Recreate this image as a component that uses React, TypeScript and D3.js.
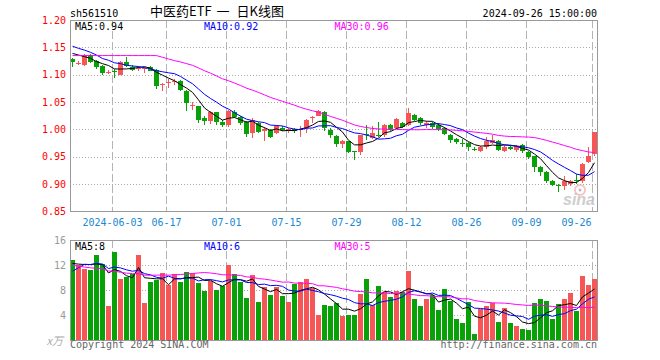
import React from "react";
import * as d3 from "d3";

const dates = [
  "2024-05-23","2024-05-24","2024-05-27","2024-05-28","2024-05-29","2024-05-30","2024-05-31",
  "2024-06-03","2024-06-04","2024-06-05","2024-06-06","2024-06-07",
  "2024-06-11","2024-06-12","2024-06-13","2024-06-14",
  "2024-06-17","2024-06-18","2024-06-19","2024-06-20","2024-06-21",
  "2024-06-24","2024-06-25","2024-06-26","2024-06-27","2024-06-28",
  "2024-07-01","2024-07-02","2024-07-03","2024-07-04","2024-07-05",
  "2024-07-08","2024-07-09","2024-07-10","2024-07-11","2024-07-12",
  "2024-07-15","2024-07-16","2024-07-17","2024-07-18","2024-07-19",
  "2024-07-22","2024-07-23","2024-07-24","2024-07-25","2024-07-26",
  "2024-07-29","2024-07-30","2024-07-31","2024-08-01","2024-08-02",
  "2024-08-05","2024-08-06","2024-08-07","2024-08-08","2024-08-09",
  "2024-08-12","2024-08-13","2024-08-14","2024-08-15","2024-08-16",
  "2024-08-19","2024-08-20","2024-08-21","2024-08-22","2024-08-23",
  "2024-08-26","2024-08-27","2024-08-28","2024-08-29","2024-08-30",
  "2024-09-02","2024-09-03","2024-09-04","2024-09-05","2024-09-06",
  "2024-09-09","2024-09-10","2024-09-11","2024-09-12","2024-09-13",
  "2024-09-18","2024-09-19","2024-09-20",
  "2024-09-23","2024-09-24","2024-09-25","2024-09-26",
];

const opens = [
  1.129,1.120,1.117,1.136,1.125,1.116,1.104,1.106,1.100,1.123,
  1.115,1.112,1.111,1.115,1.109,1.082,1.084,1.087,1.089,1.071,
  1.042,1.042,1.021,1.015,1.031,1.014,1.008,1.032,1.023,1.013,
  0.994,1.011,0.998,0.999,0.994,1.002,0.997,1.000,0.999,1.002,
  1.020,1.025,1.032,0.999,0.988,0.974,0.978,0.961,0.958,0.992,
  0.985,0.990,0.990,1.008,1.002,1.011,1.009,1.027,1.021,1.008,
  1.011,1.009,1.002,0.990,0.983,0.975,0.976,0.964,0.961,0.968,
  0.976,0.979,0.961,0.968,0.963,0.971,0.959,0.951,0.932,0.923,
  0.906,0.899,0.897,0.901,0.907,0.906,0.940,0.955,
];
const highs = [
  1.131,1.125,1.138,1.138,1.127,1.117,1.108,1.110,1.125,1.133,
  1.118,1.116,1.115,1.116,1.110,1.084,1.092,1.092,1.091,1.072,
  1.050,1.043,1.025,1.034,1.032,1.017,1.035,1.035,1.025,1.015,
  1.020,1.014,1.004,1.000,1.008,1.006,1.002,1.003,1.006,1.019,
  1.025,1.036,1.034,1.002,0.989,0.981,0.979,0.961,0.990,1.008,
  1.006,1.013,1.010,1.010,1.021,1.014,1.040,1.029,1.023,1.015,
  1.013,1.011,1.004,0.992,0.985,0.982,0.977,0.967,0.969,0.987,
  0.990,0.981,0.972,0.971,0.972,0.973,0.961,0.952,0.934,0.924,
  0.908,0.900,0.915,0.908,0.918,0.939,0.968,0.996,
];
const lows = [
  1.115,1.117,1.116,1.121,1.111,1.099,1.101,1.094,1.099,1.114,
  1.106,1.106,1.104,1.106,1.074,1.071,1.076,1.081,1.070,1.034,
  1.036,1.012,1.009,1.010,1.009,1.005,1.005,1.020,1.009,0.986,
  0.985,0.994,0.979,0.984,0.991,0.997,0.993,0.994,0.987,0.993,
  1.011,1.024,0.998,0.985,0.968,0.966,0.957,0.945,0.953,0.981,
  0.982,0.987,0.987,0.997,1.000,1.002,1.006,1.016,1.008,1.002,
  1.000,0.998,0.989,0.976,0.973,0.968,0.960,0.960,0.958,0.965,
  0.973,0.961,0.958,0.962,0.959,0.957,0.946,0.923,0.915,0.903,
  0.896,0.886,0.889,0.896,0.901,0.903,0.938,0.951,
];
const closes = [
  1.123,1.122,1.136,1.124,1.115,1.104,1.105,1.105,1.123,1.116,
  1.109,1.113,1.113,1.107,1.080,1.083,1.086,1.089,1.072,1.048,
  1.044,1.017,1.015,1.032,1.013,1.008,1.034,1.022,1.011,0.992,
  1.017,0.996,1.000,0.986,1.006,0.999,1.000,0.998,1.001,1.018,
  1.023,1.033,1.002,0.989,0.973,0.979,0.958,0.960,0.989,0.990,
  0.993,0.989,1.008,1.000,1.019,1.005,1.030,1.018,1.011,1.011,
  1.004,1.000,0.991,0.980,0.977,0.974,0.967,0.963,0.967,0.979,
  0.981,0.963,0.968,0.965,0.970,0.960,0.949,0.931,0.923,0.906,
  0.899,0.898,0.906,0.906,0.906,0.937,0.951,0.996,
];
// volume in 万 (10k) units
const volumes = [
  12.8,12.0,11.36,11.2,13.6,12.16,5.44,14.08,9.76,10.13,
  10.56,13.6,5.92,9.28,9.71,10.67,8.8,10.56,9.28,10.83,
  10.67,9.12,7.84,9.55,8.0,8.64,12.0,10.56,9.28,6.72,
  10.4,6.08,8.48,7.2,8.48,7.04,6.08,8.96,9.28,9.76,
  8.32,4.0,5.6,5.44,6.03,3.89,4.0,4.0,7.36,9.76,
  5.6,8.64,7.73,6.88,7.84,7.73,11.04,6.56,5.44,6.56,
  7.2,4.8,8.16,6.24,3.36,2.72,6.08,0.96,4.96,5.44,
  6.03,2.88,5.12,2.72,2.24,1.76,1.6,5.92,6.56,6.24,
  3.36,5.76,6.56,7.52,4.64,10.24,8.8,9.76,
];
// sessions before the first visible day, estimated from where the MA lines start
const priorCloses = [
  1.122,1.136,1.124,1.115,1.104,1.105,1.105,1.123,1.116,1.109,
  1.113,1.113,1.107,1.080,1.176,1.180,1.182,1.142,1.138,1.140,
  1.160,1.168,1.165,1.164,1.168,1.137,1.151,1.139,1.145,
];
const priorVolumes = [
  15.5,16.0,15.2,15.6,14.8,15.8,14.6,15.4,14.2,13.0,
  13.8,12.9,9.8,9.2,10.0,9.6,8.6,8.0,8.4,8.3,
  6.5,5.9,11.7,11.76,13.19,12.55,11.66,11.2,13.14,
];

const priceTicks = [1.2, 1.15, 1.1, 1.05, 1.0, 0.95, 0.9, 0.85];
const volumeTicks = [16, 12, 8, 4];
const dateTicks = ["2024-06-03","2024-06-17","2024-07-01","2024-07-15","2024-07-29","2024-08-12","2024-08-26","2024-09-09","2024-09-26"];
const dateTickLabels = ["2024-06-03","06-17","07-01","07-15","07-29","08-12","08-26","09-09","09-26"];

const maPeriods = [5, 10, 30];
const maColors = ["#000000", "#0000ff", "#ff00ff"];
const priceLegend = ["MA5:0.94", "MA10:0.92", "MA30:0.96"];
const volumeLegend = ["MA5:8", "MA10:6", "MA30:5"];
const titleParts = ["中医药ETF", "一", "日K线图"];

const UP = "#f75656";
const DOWN = "#08a208";
const MONO = "'DejaVu Sans Mono', 'Liberation Mono', monospace";
const CJK = "'Noto Sans CJK SC', sans-serif";

function movingAverage(values: number[], prior: number[], n: number): number[] {
  const all = prior.concat(values);
  return values.map((_, i) => {
    const end = prior.length + i;
    const start = Math.max(0, end - n + 1);
    return d3.mean(all.slice(start, end + 1)) as number;
  });
}

export default function App() {
  const L = 70, R = 598;
  const x = d3.scaleBand<string>().domain(dates).range([L, R]).padding(0);
  const bw = x.bandwidth() - 1;
  const y = d3.scaleLinear().domain([0.85, 1.2]).range([211.5, 20]);
  const vy = d3.scaleLinear().domain([0, 16]).range([340.5, 240]);
  const cx = (i: number) => (x(dates[i]) as number) + bw / 2;

  const priceMAs = maPeriods.map((n) => movingAverage(closes, priorCloses, n));
  const volMAs = maPeriods.map((n) => movingAverage(volumes, priorVolumes, n));
  const line = (scale: d3.ScaleLinear<number, number>) =>
    d3.line<number>().x((_, i) => cx(i)).y((v) => scale(v));

  const legendX = [75, 204, 334.5];
  const titleX = [150, 216.5, 236.5];
  const right = 597.5;

  return (
    <svg width={660} height={360} style={{ position: "absolute", left: 0, top: 0, background: "#fff" }}
      fontFamily={MONO} fontSize={10}>
      {/* header */}
      <text x={70} y={17} fill="#000">sh561510</text>
      {titleParts.map((t, k) => (
        <text key={"tt" + k} x={titleX[k]} y={16} fontSize={13} fontFamily={CJK} fill="#000">{t}</text>
      ))}
      <text x={597} y={17} textAnchor="end" fill="#000">2024-09-26 15:00:00</text>

      {/* price grid */}
      {priceTicks.slice(1, -1).map((t) => (
        <line key={"pg" + t} x1={L} x2={right} y1={Math.round(y(t)) + 0.5} y2={Math.round(y(t)) + 0.5}
          stroke="#aaa" strokeDasharray="1,2" />
      ))}
      {dateTicks.map((d) => (
        <line key={"pv" + d} x1={(x(d) as number) + 0.5} x2={(x(d) as number) + 0.5} y1={20} y2={211}
          stroke="#b4b4b4" strokeDasharray="8,3" />
      ))}
      {/* volume grid */}
      {volumeTicks.slice(1).map((t) => (
        <line key={"vg" + t} x1={L} x2={right} y1={Math.round(vy(t)) + 0.5} y2={Math.round(vy(t)) + 0.5}
          stroke="#aaa" strokeDasharray="1,2" />
      ))}
      {dateTicks.map((d) => (
        <line key={"vv" + d} x1={(x(d) as number) + 0.5} x2={(x(d) as number) + 0.5} y1={240} y2={340}
          stroke="#b4b4b4" strokeDasharray="8,3" />
      ))}

      {/* candles */}
      <g shapeRendering="crispEdges">
        {dates.map((d, i) => {
          const up = closes[i] >= opens[i];
          const col = up ? UP : DOWN;
          const x0 = x(d) as number;
          const top = Math.round(y(Math.max(opens[i], closes[i])));
          const bot = Math.round(y(Math.min(opens[i], closes[i])));
          const hi = Math.round(y(highs[i]));
          const lo = Math.round(y(lows[i]));
          return (
            <g key={d}>
              <rect x={x0 + 2} y={hi} width={1} height={Math.max(1, lo - hi)} fill={col} />
              <rect x={x0} y={top} width={bw} height={Math.max(1, bot - top)} fill={col} />
            </g>
          );
        })}
        {dates.map((d, i) => {
          const up = closes[i] >= opens[i];
          const top = Math.round(vy(volumes[i]));
          return (
            <rect key={"v" + d} x={x(d) as number} y={top} width={bw} height={Math.round(vy(0)) - top}
              fill={up ? UP : DOWN} />
          );
        })}
      </g>

      {/* moving averages */}
      {priceMAs.map((m, k) => (
        <path key={"pm" + k} d={line(y)(m) as string} fill="none" stroke={maColors[k]} strokeWidth={1} />
      ))}
      {volMAs.map((m, k) => (
        <path key={"vm" + k} d={line(vy)(m) as string} fill="none" stroke={maColors[k]} strokeWidth={1} />
      ))}

      {/* frames */}
      <rect x={70.5} y={20.5} width={527} height={191} fill="none" stroke="#999" />
      <rect x={70.5} y={240.5} width={527} height={100} fill="none" stroke="#999" />

      {/* legends */}
      {priceLegend.map((t, k) => (
        <text key={"pl" + k} x={legendX[k]} y={29.5} fill={maColors[k]}>{t}</text>
      ))}
      {volumeLegend.map((t, k) => (
        <text key={"vl" + k} x={legendX[k]} y={250} fill={maColors[k]}>{t}</text>
      ))}

      {/* price axis */}
      {priceTicks.map((t) => (
        <text key={"pt" + t} x={66} y={y(t) + 3.5} textAnchor="end" fill="#f00">{t.toFixed(2)}</text>
      ))}
      {/* volume axis */}
      {volumeTicks.map((t) => (
        <text key={"vt" + t} x={66} y={vy(t) + 3.5} textAnchor="end" fill="#999">{t}</text>
      ))}
      <text x={63} y={345} textAnchor="end" fill="#aaa" fontSize={11} fontStyle="italic"
        fontFamily={CJK}>x万</text>

      {/* date axis */}
      {dateTicks.map((d, k) => {
        const last = k === dateTicks.length - 1;
        const px = (x(d) as number) + 0.5;
        return (
          <text key={"dt" + d} x={last ? px - 1 : px} y={225.5} textAnchor={last ? "end" : "middle"} fill="#1a88d2">
            {dateTickLabels[k]}
          </text>
        );
      })}

      {/* watermark */}
      <circle cx={580} cy={190} r={5} fill="none" stroke="#f2b5b5" strokeWidth={2} opacity={0.8} />
      <circle cx={580} cy={190} r={1.5} fill="#bbb" />
      <text x={563} y={205} fontFamily="'Liberation Sans', Arial, sans-serif" fontSize={16} fontWeight="bold"
        fontStyle="italic" fill="#c6c6c6" opacity={0.85}>sina</text>

      {/* footer */}
      <text x={70} y={348} fill="#666">Copyright 2024 SINA.COM</text>
      <text x={597} y={348} textAnchor="end" fill="#666">http://finance.sina.com.cn</text>
    </svg>
  );
}
